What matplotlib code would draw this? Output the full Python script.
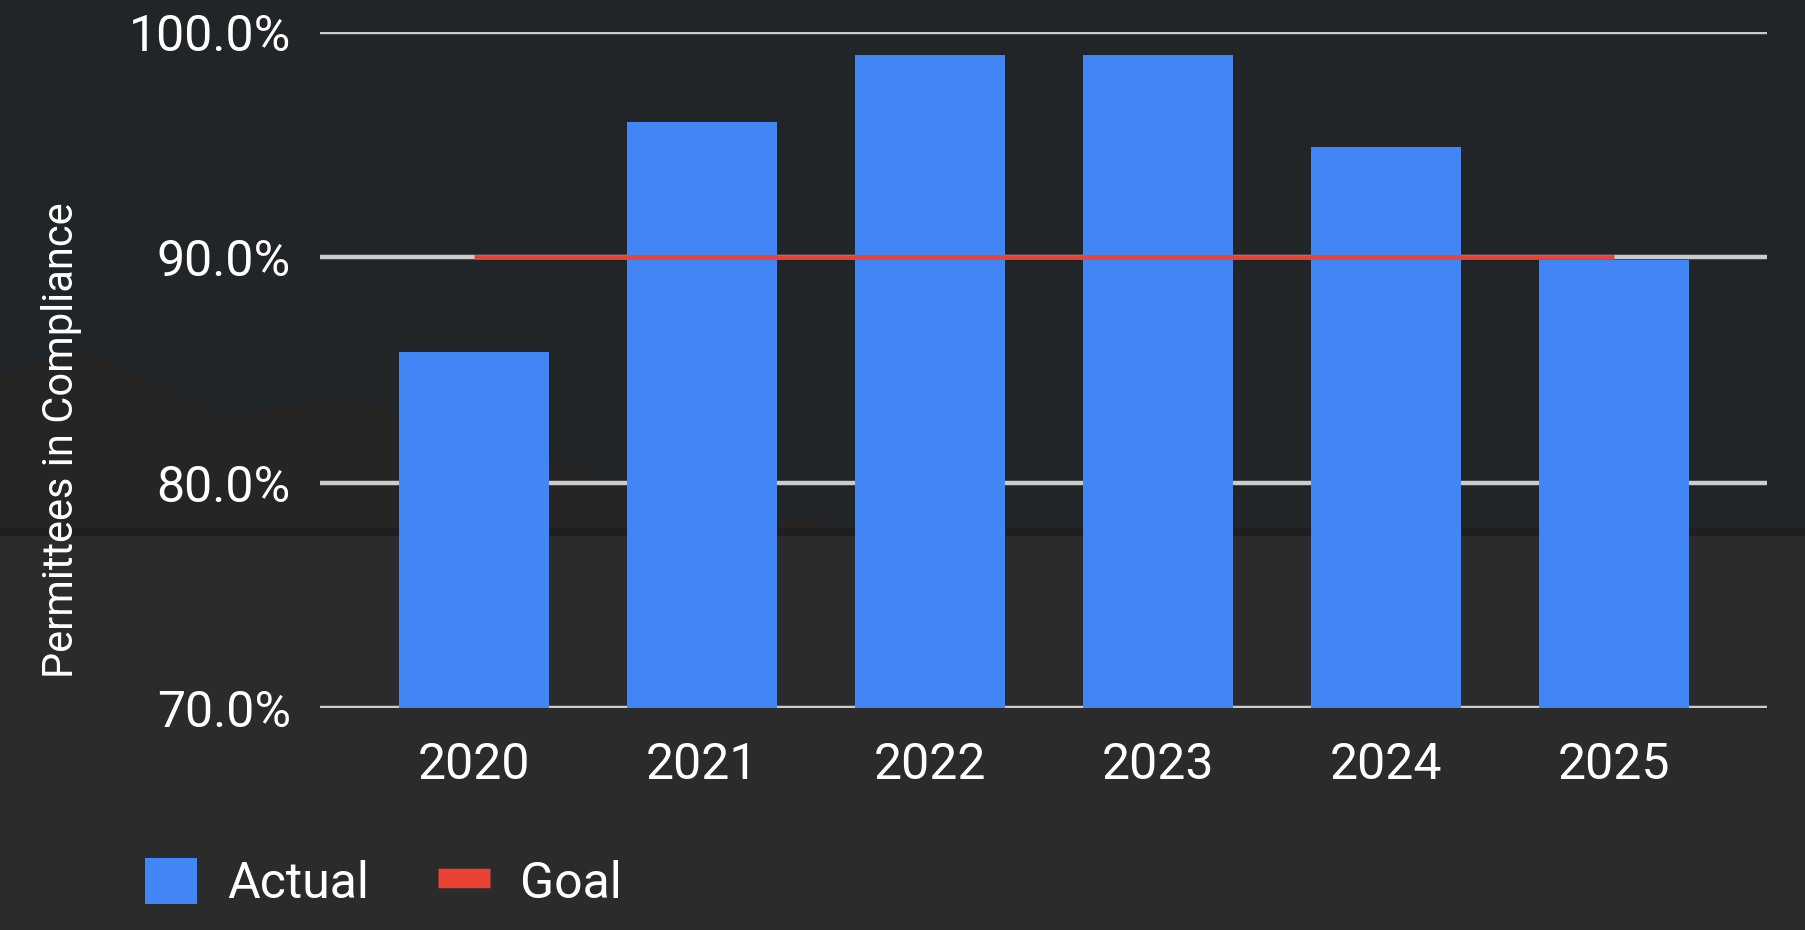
import matplotlib
matplotlib.use("Agg")
import matplotlib.pyplot as plt
from matplotlib.patches import Patch, Rectangle, Polygon
from matplotlib.lines import Line2D

# ---- data ----
years = ["2020", "2021", "2022", "2023", "2024", "2025"]
actual = [85.8, 96.0, 99.0, 99.0, 94.9, 89.9]
goal = [90, 90, 90, 90, 90, 90]
y_ticks = [70, 80, 90, 100]
y_tick_labels = ["70.0%", "80.0%", "90.0%", "100.0%"]

W, H = 1806, 930
plt.rcParams['font.family'] = ['Roboto', 'DejaVu Sans']

fig = plt.figure(figsize=(W / 100, H / 100), dpi=100)
fig.patch.set_facecolor("#222628")

# ---- decorative dark background (sky, hills, ground) ----
bg = fig.add_axes([0, 0, 1, 1], zorder=-10)
bg.set_xlim(0, W)
bg.set_ylim(H, 0)
bg.axis("off")
bg.add_patch(Rectangle((0, 0), W, 530, color="#212527", lw=0))
bg.add_patch(Polygon([(0, 375), (40, 362), (86, 352), (150, 380), (230, 418),
                      (300, 404), (356, 398), (430, 420), (520, 452), (640, 492),
                      (760, 515), (860, 528), (860, 532), (0, 532)],
                     closed=True, color="#262524", lw=0))
bg.add_patch(Rectangle((0, 528), W, 10, color="#1f1f1f", lw=0))
bg.add_patch(Rectangle((0, 536), W, H - 536, color="#2b2b2b", lw=0))

# ---- main chart ----
left, right, top, bottom = 320, 1767, 32, 708
ax = fig.add_axes([left / W, (H - bottom) / H, (right - left) / W, (bottom - top) / H])
ax.set_facecolor("none")

x = list(range(len(years)))
ax.bar(x, actual, width=0.658, color="#4285F4", zorder=3)
ax.plot(x, goal, color="#EA4335", lw=3.4, zorder=4, solid_capstyle="butt")

ax.set_ylim(70, 100)
ax.set_xlim(-0.675, 5.67)
ax.set_yticks(y_ticks)
ax.set_yticklabels(y_tick_labels)
ax.set_xticks(x)
ax.set_xticklabels(years)
ax.grid(axis="y", color="#cccccc", lw=3.2, zorder=1)
ax.set_axisbelow(True)
for s in ax.spines.values():
    s.set_visible(False)
ax.tick_params(axis="both", length=0, colors="white", labelsize=36)
ax.tick_params(axis="y", pad=21)
ax.tick_params(axis="x", pad=24)

fig.text(62 / W, (H - 440) / H, "Permittees in Compliance", rotation=90,
         ha="center", va="center", color="white", fontsize=30)

handles = [Patch(facecolor="#4285F4", edgecolor="none", label="Actual"),
           Line2D([0], [0], color="#EA4335", lw=14, solid_capstyle="butt", label="Goal")]
fig.legend(handles=handles, loc="center left", bbox_to_anchor=(145 / W, (H - 883) / H),
           ncol=2, frameon=False, fontsize=36, labelcolor="white",
           handlelength=1.04, handleheight=1.04, handletextpad=0.6,
           columnspacing=1.38, borderpad=0, borderaxespad=0)

fig.savefig("out.png", dpi=100, facecolor=fig.get_facecolor())
